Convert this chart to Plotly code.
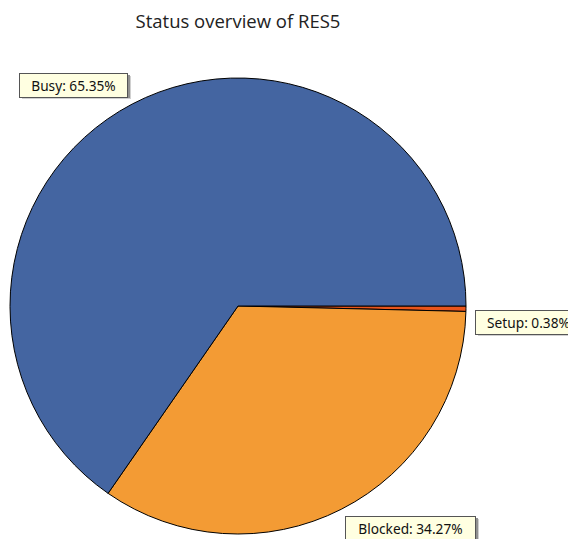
import plotly.graph_objects as go

labels = ["Busy", "Blocked", "Setup"]
values = [65.35, 34.27, 0.38]
colors = ["#4465A1", "#F39B34", "#E9541B"]
title_text = "Status overview of RES5"

# The page body has an 8px margin, so the figure is 8px smaller than the window
W, H = 568, 531
BOX_H = 23
# label boxes: top-left pixel and box width
label_box = {"Busy": (11, 65, 109), "Setup": (467, 302, 107), "Blocked": (337, 508, 131)}

fig = go.Figure()
# clockwise from 3 o'clock in reverse order == counter-clockwise in original order
fig.add_trace(go.Pie(
    labels=labels[::-1], values=values[::-1], sort=False, direction="clockwise",
    rotation=90, marker=dict(colors=colors[::-1], line=dict(color="#000000", width=1)),
    textinfo="none", hoverinfo="label+percent", showlegend=False,
    domain=dict(x=[2 / W, 458 / W], y=[1 - 526 / H, 1 - 70 / H]),
))

for lab, val in zip(labels, values):
    px, py, bw = label_box[lab]
    txt = f"{lab}: {val:.2f}%"
    # soft drop shadow
    for off, col in ((3, "#d0d0d0"), (2, "#909090")):
        fig.add_shape(type="rect", xref="paper", yref="paper", layer="above",
                      x0=(px + off) / W, x1=(px + bw + off) / W,
                      y0=1 - (py + BOX_H + off) / H, y1=1 - (py + off) / H,
                      fillcolor=col, line=dict(width=0))
    fig.add_annotation(x=px / W, y=1 - py / H, xref="paper", yref="paper",
                       xanchor="left", yanchor="top", text=txt, showarrow=False, width=bw - 6,
                       font=dict(family="Noto Sans", size=13.7, color="#111111"),
                       bgcolor="#FFFFE1", bordercolor="#555555", borderwidth=1, borderpad=2)

fig.update_layout(
    width=W, height=H, margin=dict(l=0, r=0, t=0, b=0),
    paper_bgcolor="white", plot_bgcolor="white",
    title=dict(text=title_text, x=230 / W, xanchor="center", y=1 - 14 / H, yanchor="middle",
               font=dict(family="Open Sans", size=18.5, color="#222222")),
)

fig.write_html("out.html")
